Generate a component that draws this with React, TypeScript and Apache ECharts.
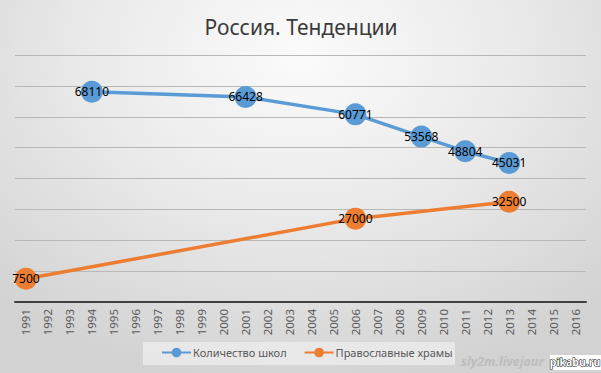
import React, { useEffect, useRef } from "react";
import * as echarts from "echarts";

const years: string[] = [
  "1991","1992","1993","1994","1995","1996","1997","1998","1999","2000",
  "2001","2002","2003","2004","2005","2006","2007","2008","2009","2010",
  "2011","2012","2013","2014","2015","2016",
];
const schoolYears: string[] = ["1994", "2001", "2006", "2009", "2011", "2013"];
const schoolValues: number[] = [68110, 66428, 60771, 53568, 48804, 45031];
const churchYears: string[] = ["1991", "2006", "2013"];
const churchValues: number[] = [7500, 27000, 32500];

const seriesNames = ["Количество школ", "Православные храмы"];
const title = "Россия. Тенденции";

function toSeries(ys: string[], vs: number[]) {
  return years.map((y) => {
    const i = ys.indexOf(y);
    return i >= 0 ? vs[i] : null;
  });
}

export default function App() {
  const ref = useRef<HTMLDivElement>(null);
  useEffect(() => {
    document.body.style.margin = "0";
    if (!ref.current) return;
    const chart = echarts.init(ref.current, undefined, { renderer: "svg" });
    const font = "'Noto Sans', 'Open Sans', sans-serif";
    const label = {
      show: true,
      position: "inside",
      color: "#000000",
      fontSize: 12,
      fontFamily: font,
    };
    chart.setOption({
      animation: false,
      backgroundColor: "transparent",
      textStyle: { fontFamily: font },
      grid: { left: 15, right: 15, top: 55, bottom: 71, containLabel: false },
      xAxis: {
        type: "category",
        data: years,
        boundaryGap: true,
        axisLine: { lineStyle: { color: "#404040", width: 2 } },
        axisTick: { show: false },
        axisLabel: {
          rotate: 90,
          color: "#595959",
          fontSize: 11.5,
          fontFamily: font,
          interval: 0,
          margin: 7,
        },
      },
      yAxis: {
        type: "value",
        min: 0,
        max: 80000,
        interval: 10000,
        axisLabel: { show: false },
        axisLine: { show: false },
        axisTick: { show: false },
        splitLine: { lineStyle: { color: "#b8b8b8", width: 1 } },
      },
      legend: {
        left: 161,
        top: 347,
        itemGap: 17,
        itemWidth: 29,
        itemHeight: 12,
        padding: 0,
        textStyle: { color: "#595959", fontSize: 11, fontFamily: font, padding: [0, 0, 0, -3] },
        data: seriesNames,
      },
      graphic: [
        {
          type: "rect",
          shape: { x: 143, y: 342, width: 312, height: 23 },
          style: { fill: "rgba(240,240,240,0.7)" },
          z: -1,
        },
        {
          type: "text",
          x: 301,
          y: 27,
          style: {
            text: title,
            fill: "#3a3a3a",
            fontSize: 21,
            fontFamily: font,
            textAlign: "center",
            textVerticalAlign: "middle",
          },
        },
        {
          type: "text",
          x: 461,
          y: 361,
          style: {
            text: "sly2m.livejour",
            fill: "#bdbdbd",
            fontSize: 12.5,
            fontWeight: "bold",
            fontStyle: "italic",
            fontFamily: font,
            textVerticalAlign: "middle",
          },
        },
        {
          type: "rect",
          shape: { x: 550, y: 355, width: 51, height: 15 },
          style: { fill: "#ffffff" },
          z: 10,
        },
        {
          type: "text",
          x: 575,
          y: 362,
          z: 11,
          style: {
            text: "pikabu.ru",
            fill: "#ffffff",
            stroke: "#000000",
            lineWidth: 1,
            fontSize: 10.5,
            fontWeight: "bold",
            fontFamily: font,
            textAlign: "center",
            textVerticalAlign: "middle",
          },
        },
      ],
      series: [
        {
          name: seriesNames[0],
          type: "line",
          data: toSeries(schoolYears, schoolValues),
          connectNulls: true,
          symbol: "circle",
          symbolSize: 22,
          itemStyle: { color: "#5b9bd5" },
          lineStyle: { color: "#5b9bd5", width: 3.5 },
          label,
        },
        {
          name: seriesNames[1],
          type: "line",
          data: toSeries(churchYears, churchValues),
          connectNulls: true,
          symbol: "circle",
          symbolSize: 22,
          itemStyle: { color: "#ed7d31" },
          lineStyle: { color: "#ed7d31", width: 3.5 },
          label,
        },
      ],
    });
    return () => chart.dispose();
  }, []);
  return (
    <div
      ref={ref}
      style={{
        width: 601,
        height: 373,
        background:
          "radial-gradient(ellipse 75% 90% at 50% 15%, #fbfbfb 0%, #ebebeb 45%, #d2d2d2 100%)",
      }}
    />
  );
}
